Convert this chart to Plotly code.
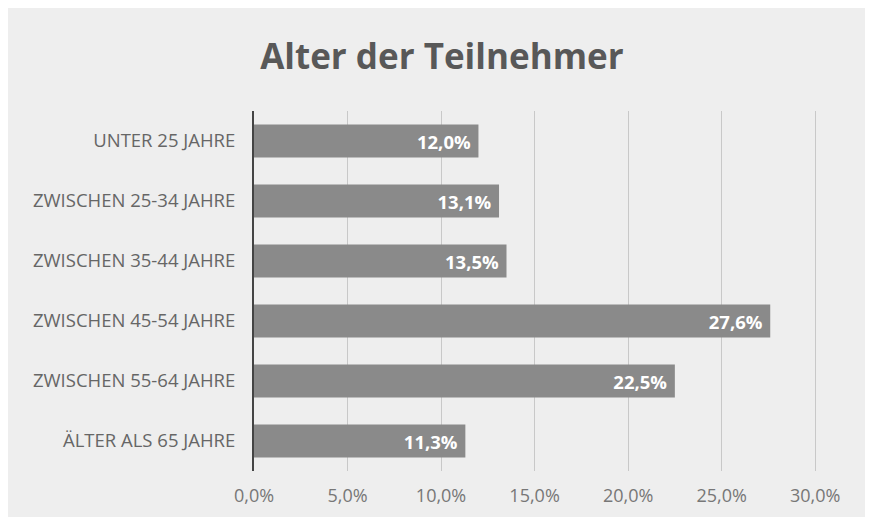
import plotly.graph_objects as go

categories = ["UNTER 25 JAHRE", "ZWISCHEN 25-34 JAHRE", "ZWISCHEN 35-44 JAHRE",
              "ZWISCHEN 45-54 JAHRE", "ZWISCHEN 55-64 JAHRE", "ÄLTER ALS 65 JAHRE"]
values = [12.0, 13.1, 13.5, 27.6, 22.5, 11.3]
tick_vals = [0, 5, 10, 15, 20, 25, 30]
tick_text = ["0,0%", "5,0%", "10,0%", "15,0%", "20,0%", "25,0%", "30,0%"]
labels = [f"<b>{v:.1f}%</b>".replace(".", ",") + "\u00a0" for v in values]

fig = go.Figure(go.Bar(
    x=values, y=categories, orientation="h",
    marker=dict(color="#8a8a8a", line=dict(width=0)),
    text=labels, textposition="inside", insidetextanchor="end",
    textfont=dict(color="white", size=18.5, family="Open Sans"),
    textangle=0,
))

fig.update_layout(
    width=873, height=517,
    margin=dict(l=246, r=64, t=103, b=54),
    paper_bgcolor="#eeeeee", plot_bgcolor="rgba(0,0,0,0)",
    title=dict(text="<b>Alter der Teilnehmer</b>", x=0.497, xanchor="center",
               y=0.905, yanchor="middle",
               font=dict(size=35, color="#585858", family="Open Sans")),
    bargap=0.45,
    showlegend=False,
    font=dict(family="Open Sans", color="#666666", size=18),
)
fig.update_xaxes(range=[0, 30.1], tickvals=tick_vals, ticktext=tick_text,
                 showgrid=True, gridcolor="#c8c8c8", gridwidth=1, zeroline=False,
                 tickfont=dict(size=18, color="#777777"), ticks="", ticklabelstandoff=12)
fig.update_yaxes(categoryorder="array", categoryarray=categories[::-1],
                 showline=True, linecolor="#444444", linewidth=2,
                 tickfont=dict(size=18.5, color="#666666"), ticks="", ticklabelstandoff=13)

fig.write_html("out.html")
